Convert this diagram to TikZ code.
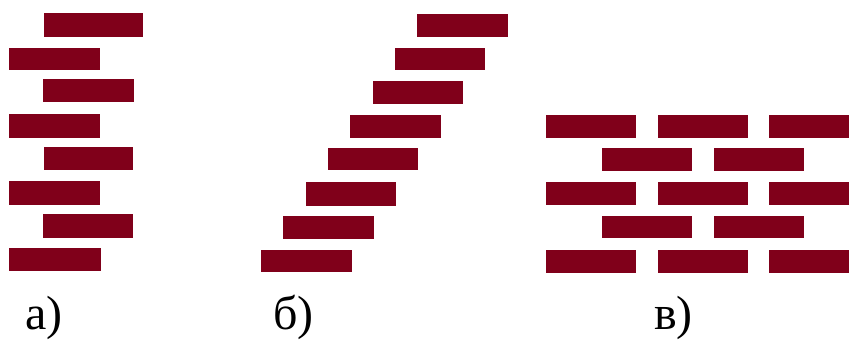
\documentclass[tikz,border=0pt]{standalone}
\usepackage{fontspec}
\setmainfont{Liberation Serif}
\definecolor{brickred}{RGB}{128,0,26}
\begin{document}
\begin{tikzpicture}[x=1pt,y=-1pt,
  brick/.style={fill=brickred,draw=none},
  lbl/.style={anchor=base west,inner sep=0pt,font=\fontsize{48}{48}\selectfont}]
\useasboundingbox (0,0) rectangle (849,341);
% a)
\foreach \xa/\xb/\ya/\yb in {44/143/13/37, 9/100/48/70, 43/134/79/102, 9/100/114/138,
  44/133/147/170, 9/100/181/205, 43/133/214/238, 9/101/248/271}
  \fill[brick] (\xa,\ya) rectangle (\xb,\yb);
% b)
\foreach \xa/\xb/\ya/\yb in {417/508/14/37, 395/485/48/70, 373/463/81/104, 350/441/115/138,
  328/418/148/170, 306/396/182/206, 283/374/216/239, 261/352/250/272}
  \fill[brick] (\xa,\ya) rectangle (\xb,\yb);
% v)
\foreach \ya/\yb in {115/138, 182/205, 250/273}{
  \fill[brick] (546,\ya) rectangle (636,\yb);
  \fill[brick] (658,\ya) rectangle (748,\yb);
  \fill[brick] (769,\ya) rectangle (849,\yb);
}
\foreach \ya/\yb in {148/171, 216/238}{
  \fill[brick] (602,\ya) rectangle (692,\yb);
  \fill[brick] (714,\ya) rectangle (804,\yb);
}
\node[lbl] (la) at (25,329) {а)};
\node[lbl] (lb) at (273,329) {б)};
\node[lbl] (lv) at (654,329) {в)};
\end{tikzpicture}
\end{document}
